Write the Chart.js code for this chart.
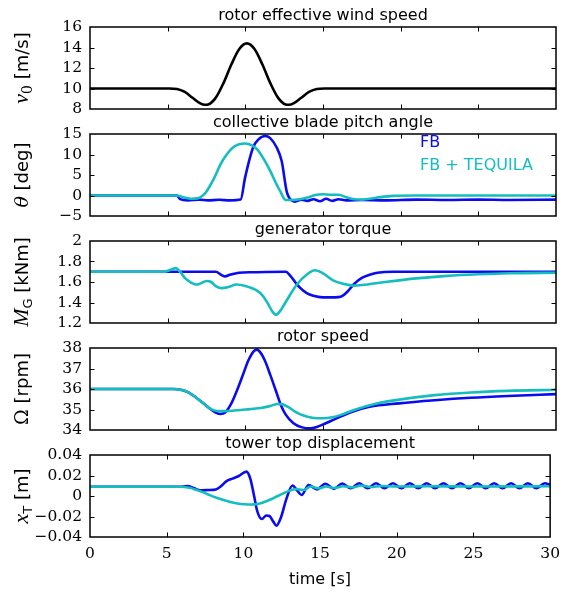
<!DOCTYPE html>
<html>
<head>
<meta charset="utf-8">
<script src="https://cdn.jsdelivr.net/npm/chart.js@4.4.1/dist/chart.umd.min.js"></script>
<style>
  html, body { margin: 0; padding: 0; background: #fff; }
  #figure { position: relative; width: 568px; height: 592px; overflow: hidden; }
  #figure canvas { position: absolute; left: 0; }
</style>
</head>
<body>
<div id="figure"></div>
<script>
// ---- data ----
const timeTicks = [0, 5, 10, 15, 20, 25, 30];

// rotor effective wind speed [m/s]
const windTime  = [0, 5.1, 5.6, 6.1, 6.6, 7.1, 7.4, 7.6, 8.1, 8.6, 9.1, 9.6, 10.1, 10.6, 11.1, 11.6, 12.1, 12.6, 12.8, 13.1, 13.6, 14.1, 14.6, 15.1, 30];
const windSpeed = [10, 10, 9.95, 9.66, 9.10, 8.55, 8.41, 8.44, 9.11, 10.55, 12.34, 13.83, 14.40, 13.83, 12.34, 10.55, 9.11, 8.44, 8.41, 8.55, 9.10, 9.66, 9.95, 10, 10];
const windTicks = [8, 10, 12, 14, 16];

// collective blade pitch angle [deg]
const pitchTimeFB = [0, 5.6, 5.8, 6.3, 7.0, 7.6, 8.3, 9.0, 9.7, 9.98, 10.5, 10.85, 11.27, 11.6, 12.02, 12.34, 12.66, 12.8, 13.2, 13.6, 14.0, 14.4, 14.8, 15.2, 15.6, 16.0, 16.5, 17.5, 19, 21, 23, 25, 27, 30];
const pitchFB     = [0, 0, -0.9, -1.2, -1.0, -1.2, -1.05, -1.2, -1.0, 4.3, 11.7, 13.7, 14.5, 14.0, 11.7, 8.4, 1.0, -0.4, -1.5, -1.0, -1.3, -0.9, -1.4, -0.8, -1.3, -0.9, -1.2, -1.1, -1.2, -1.0, -1.1, -1.0, -1.1, -1.0];
const pitchTimeTQ = [0, 5.6, 6.0, 6.5, 6.9, 7.2, 7.5, 8.0, 8.4, 8.8, 9.2, 9.6, 10.0, 10.4, 10.75, 11.2, 11.6, 12.0, 12.25, 12.6, 13.0, 13.5, 14.0, 14.5, 15.0, 15.5, 16.0, 16.5, 17.0, 17.5, 18.0, 18.7, 19.5, 21, 30];
const pitchTQ     = [0, 0, -0.4, -0.8, -0.7, -0.2, 1.0, 4.3, 7.6, 10.0, 11.7, 12.5, 12.7, 12.3, 11.3, 8.8, 6.0, 2.8, 1.0, -1.1, -1.1, -0.9, -0.5, 0.1, 0.3, 0.2, 0.2, -0.4, -0.9, -1.0, -0.8, -0.4, -0.1, 0, 0];
const pitchTicks  = [-5, 0, 5, 10, 15];

// generator torque [kNm]
const torqueTimeFB = [0, 8.1, 8.45, 8.7, 9.0, 9.6, 10.5, 12.6, 12.9, 13.3, 13.7, 14.1, 14.7, 15.4, 16.0, 16.3, 16.6, 17.0, 17.5, 18.0, 18.5, 19.5, 30];
const torqueFB     = [1.70, 1.70, 1.67, 1.655, 1.67, 1.69, 1.695, 1.70, 1.66, 1.58, 1.52, 1.48, 1.455, 1.45, 1.452, 1.47, 1.51, 1.58, 1.64, 1.67, 1.69, 1.70, 1.70];
const torqueTimeTQ = [0, 4.8, 5.2, 5.5, 5.8, 6.1, 6.5, 6.8, 7.1, 7.5, 7.8, 8.1, 8.5, 9.0, 9.4, 10.0, 10.75, 11.1, 11.45, 11.75, 11.97, 12.3, 12.62, 13.32, 14.02, 14.48, 14.95, 15.65, 16.35, 16.94, 17.5, 19, 21, 23, 25, 27, 30];
const torqueTQ     = [1.70, 1.70, 1.72, 1.735, 1.70, 1.64, 1.595, 1.575, 1.585, 1.61, 1.60, 1.56, 1.54, 1.555, 1.575, 1.56, 1.515, 1.47, 1.39, 1.31, 1.28, 1.33, 1.41, 1.575, 1.68, 1.715, 1.69, 1.615, 1.58, 1.565, 1.57, 1.60, 1.635, 1.66, 1.675, 1.685, 1.69];
const torqueTicks  = [1.2, 1.4, 1.6, 1.8, 2];

// rotor speed [rpm]
const speedTimeFB = [0, 5.4, 5.9, 6.3, 6.8, 7.3, 7.8, 8.1, 8.4, 8.7, 9.1, 9.5, 9.85, 10.2, 10.55, 10.75, 11.0, 11.25, 11.6, 11.95, 12.3, 12.6, 13.1, 13.6, 14.2, 14.6, 15.0, 15.9, 16.8, 18.0, 19.9, 22.2, 24.5, 26.9, 30];
const speedFB     = [36, 36, 35.95, 35.85, 35.6, 35.3, 35.0, 34.85, 34.78, 34.85, 35.3, 36.0, 36.7, 37.4, 37.85, 37.92, 37.75, 37.4, 36.7, 35.95, 35.2, 34.75, 34.33, 34.14, 34.08, 34.15, 34.27, 34.58, 34.87, 35.13, 35.3, 35.45, 35.57, 35.66, 35.75];
const speedTimeTQ = [0, 5.4, 5.9, 6.3, 6.8, 7.3, 7.8, 8.2, 8.7, 9.5, 10.3, 11.0, 11.6, 12.1, 12.4, 12.8, 13.2, 13.7, 14.3, 15.0, 15.6, 16.2, 17.0, 18.4, 19.8, 22.2, 24.5, 26.9, 30];
const speedTQ     = [36, 36, 35.95, 35.85, 35.6, 35.3, 35.02, 34.93, 34.92, 34.96, 35.02, 35.07, 35.17, 35.27, 35.25, 35.1, 34.9, 34.72, 34.6, 34.57, 34.62, 34.75, 34.98, 35.28, 35.47, 35.7, 35.83, 35.91, 35.96];
const speedTicks  = [34, 35, 36, 37, 38];

// tower top displacement [m]
const towerTimeFB = [0, 6.0, 6.4, 6.8, 7.2, 7.7, 8.2, 8.5, 8.9, 9.3, 9.7, 10.2, 10.45, 10.7, 10.9, 11.2, 11.5, 11.7, 11.95, 12.15, 12.45, 12.8, 13.2, 13.5, 13.8, 14.25, 14.8, 15.35, 15.9, 16.45, 17.0, 17.55, 18.1, 18.65, 19.2, 19.75, 20.3, 20.85, 21.4, 21.95, 22.5, 23.05, 23.6, 24.15, 24.7, 25.25, 25.8, 26.35, 26.9, 27.45, 28.0, 28.55, 29.1, 29.65, 30];
const towerFB     = [0.009, 0.009, 0.0098, 0.0075, 0.0055, 0.0058, 0.0064, 0.009, 0.0145, 0.017, 0.0195, 0.0238, 0.017, 0.0, -0.0145, -0.0225, -0.019, -0.0195, -0.025, -0.029, -0.021, -0.003, 0.0102, 0.0055, 0.001, 0.0108, 0.0065, 0.012, 0.007, 0.0122, 0.0075, 0.0125, 0.0075, 0.0125, 0.0075, 0.0125, 0.0075, 0.0125, 0.0075, 0.0125, 0.0075, 0.0125, 0.0075, 0.0125, 0.0075, 0.0125, 0.0075, 0.0125, 0.0075, 0.0125, 0.0075, 0.0125, 0.0075, 0.0125, 0.011];
const towerTimeTQ = [0, 5.9, 6.4, 6.8, 7.3, 7.7, 8.2, 8.7, 9.2, 9.6, 10.1, 10.5, 11.0, 11.5, 12.0, 12.5, 12.9, 13.4, 13.9, 14.4, 14.9, 15.4, 15.9, 16.5, 17.1, 17.7, 18.3, 19, 20, 22, 25, 30];
const towerTQ     = [0.009, 0.009, 0.0082, 0.0067, 0.004, 0.0015, -0.0015, -0.004, -0.006, -0.0073, -0.0081, -0.0083, -0.0075, -0.0052, -0.0018, 0.0018, 0.0045, 0.0068, 0.0058, 0.0092, 0.0074, 0.0093, 0.0078, 0.0095, 0.0085, 0.0102, 0.0088, 0.0098, 0.0092, 0.0095, 0.0093, 0.0095];
const towerTicks  = [-0.04, -0.02, 0, 0.02, 0.04];

const seriesNames = ['FB', 'FB + TEQUILA'];

// ---- styling ----
const BLUE = '#0b0bef';
const CYAN = '#16bdbf';
const SANS = '"DejaVu Sans"';
const SERIF = '"DejaVu Serif"';
const TICK_LEN = 4.5;

const pts = (t, v) => t.map((x, i) => ({ x: x, y: v[i] }));
const fmt = v => String(+v.toFixed(4)).replace('-', '\u2212');

// frame, inward ticks, panel title, rich y label and text legend
const framePlugin = {
    id: 'frame',
    afterDraw(chart, args, opts) {
        const { ctx, chartArea: a, scales: { x, y } } = chart;
        ctx.save();

        // inward tick marks on all four sides
        ctx.strokeStyle = '#000';
        ctx.lineWidth = 1;
        ctx.beginPath();
        timeTicks.forEach(v => {
            if (v <= x.min || v >= x.max) return;
            const px = Math.round(x.getPixelForValue(v)) + 0.5;
            ctx.moveTo(px, a.bottom); ctx.lineTo(px, a.bottom - TICK_LEN);
            ctx.moveTo(px, a.top); ctx.lineTo(px, a.top + TICK_LEN);
        });
        opts.yTicks.forEach(v => {
            if (v <= y.min || v >= y.max) return;
            const py = Math.round(y.getPixelForValue(v)) + 0.5;
            ctx.moveTo(a.left, py); ctx.lineTo(a.left + TICK_LEN, py);
            ctx.moveTo(a.right, py); ctx.lineTo(a.right - TICK_LEN, py);
        });
        ctx.stroke();

        ctx.lineWidth = 1.5;
        ctx.strokeRect(a.left, a.top, a.right - a.left, a.bottom - a.top);

        // panel title
        ctx.fillStyle = '#000';
        ctx.font = '16px ' + SANS;
        ctx.textAlign = 'center';
        ctx.textBaseline = 'alphabetic';
        ctx.fillText(opts.title, (a.left + a.right) / 2, a.top - 7);

        // rotated y label made of parts (italic symbol, subscript, unit)
        const parts = opts.ylabel;
        let total = 0;
        parts.forEach(p => { ctx.font = p.font; p.w = ctx.measureText(p.text).width; total += p.w; });
        ctx.translate(28, (a.top + a.bottom) / 2);
        ctx.rotate(-Math.PI / 2);
        ctx.textAlign = 'left';
        let cx = -total / 2;
        parts.forEach(p => {
            ctx.font = p.font;
            ctx.fillText(p.text, cx, p.dy || 0);
            cx += p.w;
        });
        ctx.setTransform(1, 0, 0, 1, 0, 0);

        // legend as coloured text
        if (opts.legend) {
            ctx.font = '16px ' + SANS;
            ctx.textAlign = 'left';
            ctx.textBaseline = 'middle';
            chart.data.datasets.forEach((ds, i) => {
                ctx.fillStyle = ds.borderColor;
                ctx.fillText(ds.label, a.right - 136, a.top + 9 + i * 23);
            });
        }
        ctx.restore();
    }
};

const unit = t => ({ text: t, font: '18px ' + SANS });
const MATH = 'italic 22px "Liberation Serif"';

const panels = [
    {
        title: 'rotor effective wind speed', yTicks: windTicks,
        ylabel: [{ text: 'v', font: MATH }, { text: '0', font: '14px ' + SERIF, dy: 4 }, unit(' [m/s]')],
        series: [{ label: 'wind', data: pts(windTime, windSpeed), color: '#000' }]
    },
    {
        title: 'collective blade pitch angle', yTicks: pitchTicks, legend: true,
        ylabel: [{ text: '\u03b8', font: 'italic 19px ' + SERIF }, unit(' [deg]')],
        series: [
            { label: seriesNames[0], data: pts(pitchTimeFB, pitchFB), color: BLUE },
            { label: seriesNames[1], data: pts(pitchTimeTQ, pitchTQ), color: CYAN }
        ]
    },
    {
        title: 'generator torque', yTicks: torqueTicks,
        ylabel: [{ text: 'M', font: MATH }, { text: 'G', font: '13px ' + SANS, dy: 4 }, unit(' [kNm]')],
        series: [
            { label: seriesNames[0], data: pts(torqueTimeFB, torqueFB), color: BLUE },
            { label: seriesNames[1], data: pts(torqueTimeTQ, torqueTQ), color: CYAN }
        ]
    },
    {
        title: 'rotor speed', yTicks: speedTicks,
        ylabel: [{ text: '\u03a9', font: '19px ' + SERIF }, unit(' [rpm]')],
        series: [
            { label: seriesNames[0], data: pts(speedTimeFB, speedFB), color: BLUE },
            { label: seriesNames[1], data: pts(speedTimeTQ, speedTQ), color: CYAN }
        ]
    },
    {
        title: 'tower top displacement', yTicks: towerTicks, xAxis: true,
        ylabel: [{ text: 'x', font: MATH }, { text: 'T', font: '13px ' + SANS, dy: 4 }, unit(' [m]')],
        series: [
            { label: seriesNames[0], data: pts(towerTimeFB, towerFB), color: BLUE },
            { label: seriesNames[1], data: pts(towerTimeTQ, towerTQ), color: CYAN }
        ]
    }
];

// plot-area geometry of the stacked panels
const PLOT_LEFT = 90, PLOT_RIGHT = 556, PLOT_H = 82, PITCH = 107, FIRST_TOP = 27, HEAD = 26, FOOT = 22;

const fig = document.getElementById('figure');

panels.forEach((p, k) => {
    const plotTop = FIRST_TOP + k * PITCH;
    const canvasTop = plotTop - HEAD;
    const height = p.xAxis ? 592 - canvasTop : HEAD + PLOT_H + FOOT;

    const canvas = document.createElement('canvas');
    canvas.width = 568;
    canvas.height = height;
    canvas.style.top = canvasTop + 'px';
    fig.appendChild(canvas);

    new Chart(canvas, {
        type: 'line',
        data: {
            datasets: p.series.map((s, i) => ({
                label: s.label,
                data: s.data,
                borderColor: s.color,
                backgroundColor: s.color,
                borderWidth: 2.6,
                pointRadius: 0,
                cubicInterpolationMode: 'monotone',
                order: p.series.length - i
            }))
        },
        options: {
            responsive: false,
            devicePixelRatio: 1,
            animation: false,
            events: [],
            layout: {
                padding: { top: HEAD, left: 0, right: 568 - PLOT_RIGHT, bottom: p.xAxis ? 0 : FOOT }
            },
            plugins: {
                legend: { display: false },
                tooltip: { enabled: false },
                frame: { title: p.title, ylabel: p.ylabel, yTicks: p.yTicks, legend: !!p.legend }
            },
            scales: {
                x: {
                    type: 'linear',
                    min: 0,
                    max: 30,
                    display: !!p.xAxis,
                    afterBuildTicks: s => { s.ticks = timeTicks.map(v => ({ value: v })); },
                    afterFit: s => { if (p.xAxis) s.height = 592 - (canvasTop + HEAD + PLOT_H); },
                    grid: { display: false, drawTicks: false },
                    border: { display: false },
                    ticks: {
                        color: '#000',
                        padding: 8,
                        maxRotation: 0,
                        autoSkip: false,
                        font: { family: 'DejaVu Serif', size: 15.5 },
                        callback: v => fmt(v)
                    },
                    title: {
                        display: true,
                        text: 'time [s]',
                        color: '#000',
                        font: { family: 'DejaVu Sans', size: 16 },
                        padding: { top: 0, bottom: 3 }
                    }
                },
                y: {
                    min: p.yTicks[0],
                    max: p.yTicks[p.yTicks.length - 1],
                    afterBuildTicks: s => { s.ticks = p.yTicks.map(v => ({ value: v })); },
                    afterFit: s => { s.width = PLOT_LEFT; },
                    grid: { display: false, drawTicks: false },
                    border: { display: false },
                    ticks: {
                        color: '#000',
                        padding: 8,
                        autoSkip: false,
                        font: { family: 'DejaVu Serif', size: 15.5 },
                        callback: v => fmt(v)
                    }
                }
            }
        },
        plugins: [framePlugin]
    });
});
</script>
</body>
</html>
